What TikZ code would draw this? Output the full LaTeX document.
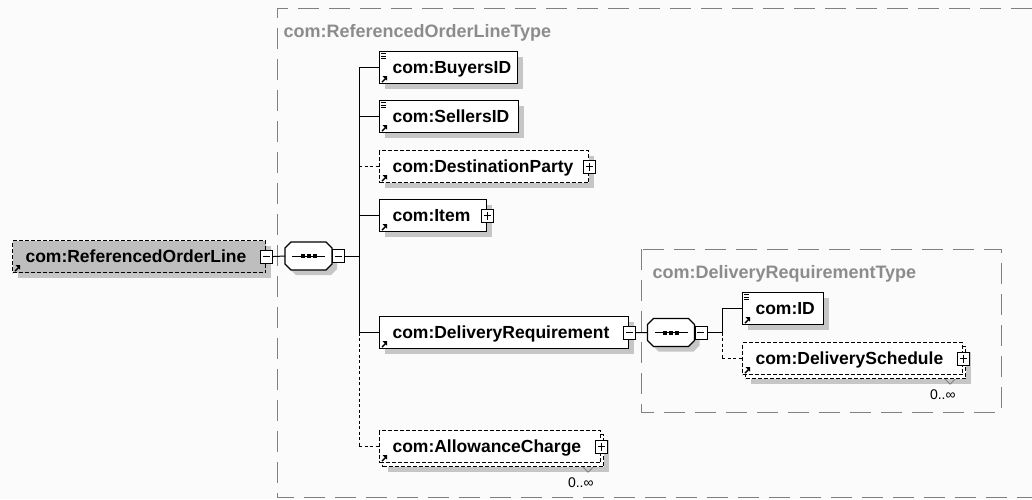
\documentclass[tikz,border=0pt]{standalone}
\usepackage{fontspec}
\setmainfont{Liberation Sans}
\usepackage{tikz}
\usetikzlibrary{arrows}
\usetikzlibrary{shadows}
\hyphenpenalty=10000

\definecolor{typegray}{RGB}{140,140,140}
\definecolor{linegray}{RGB}{128,128,128}
\definecolor{shadegray}{RGB}{198,198,198}
\definecolor{fillgray}{RGB}{190,190,190}
\definecolor{paper}{RGB}{251,251,251}

\begin{document}
\begin{tikzpicture}[x=1pt,y=-1pt,line width=1pt,
  elem/.style={draw, line width=1.1pt, fill=white, anchor=north west,
    minimum height=32pt, inner xsep=13pt, inner ysep=0pt,
    text height=12pt, text depth=0pt, text width=#1, align=left,
    font=\fontsize{17.5}{20}\selectfont\bfseries},
  boxshadow/.style={drop shadow={shadow xshift=5pt, shadow yshift=-5pt, fill=shadegray, opacity=1}},
  opt/.style={dash pattern=on 4pt off 2pt},
  optline/.style={dash pattern=on 3pt off 2.5pt},
  typebox/.style={linegray, line width=1pt, dash pattern=on 21pt off 10pt},
  typelabel/.style={anchor=base west, inner sep=0pt, text=typegray, font=\fontsize{18}{21}\selectfont\bfseries},
  pm/.style={draw, line width=0.8pt, fill=white, minimum width=12pt, minimum height=13pt, inner sep=0pt},
  minusbox/.style={pm, path picture={\draw[line width=0.8pt] ([xshift=2.5pt]path picture bounding box.west) -- ([xshift=-2.5pt]path picture bounding box.east);}},
  plusbox/.style={pm, path picture={\draw[line width=0.8pt] ([xshift=2.5pt]path picture bounding box.west) -- ([xshift=-2.5pt]path picture bounding box.east);
    \draw[line width=0.8pt] ([yshift=-2.5pt]path picture bounding box.north) -- ([yshift=2.5pt]path picture bounding box.south);}},
  seqbox/.style={minimum width=47pt, minimum height=28pt, inner sep=0pt, outer sep=0pt},
  mult/.style={anchor=base east, inner sep=0pt, font=\fontsize{14}{16}\selectfont},
]
\def\octagonpath{+(-17.5,-14) -- +(17.5,-14) -- +(23.5,-8) -- +(23.5,8) -- +(17.5,14) -- +(-17.5,14) -- +(-23.5,8) -- +(-23.5,-8) -- cycle}

\useasboundingbox (0,0) rectangle (1032,499);
\fill[paper] (0,0) rectangle (1032,499);

\draw[typebox] (1032,8) -- (277,8) -- (277,497) -- (1032,497);
\node[typelabel] (oltype) at (283,37) {com:ReferencedOrderLineType};
\draw[typebox] (641,249) rectangle (1001,412);
\node[typelabel] (drtype) at (652,278) {com:DeliveryRequirementType};

\node[elem=227pt, opt, fill=fillgray, boxshadow] (rol) at (12,240) {com:ReferencedOrderLine};
\node[minusbox] (rolminus) at (rol.east) {};

\node[seqbox] (seq1) at (308.5,256) {};
\node[seqbox] (seq2) at (671,332.5) {};

\foreach \s in {seq1,seq2}
{
	\fill[shadegray] ([shift={(5,5)}]\s.center) \octagonpath;
	\draw[line width=1.1pt, fill=white] (\s.center) \octagonpath;
	\draw (\s.center) +(-16.5,0) -- +(16.5,0);
	\foreach \d in {-6,0,6}
		\fill ([xshift=\d pt]\s.center) +(-2,-2) rectangle +(2,2);
}

\node[minusbox, anchor=west] (seq1minus) at (seq1.east) {};
\node[minusbox, anchor=west] (seq2minus) at (seq2.east) {};

\node[elem=112pt, boxshadow] (buyers) at (379,51) {com:BuyersID};
\node[elem=113pt, boxshadow] (sellers) at (379,100) {com:SellersID};
\node[elem=183pt, opt, boxshadow] (dest) at (379,150) {com:DestinationParty};
\node[plusbox] (destplus) at (dest.east) {};
\node[elem=81pt, boxshadow] (item) at (379,199) {com:Item};
\node[plusbox] (itemplus) at (item.east) {};
\node[elem=223pt, boxshadow] (dr) at (379,316) {com:DeliveryRequirement};
\node[minusbox] (drminus) at (dr.east) {};
\node[elem=195pt, opt, boxshadow] (acback) at (382,434) {};
\node[elem=195pt, opt] (ac) at (379,430) {com:AllowanceCharge};
\node[plusbox] (acplus) at (ac.east) {};

\node[elem=55pt, boxshadow] (id) at (742,292) {com:ID};
\node[elem=194pt, opt, boxshadow] (dsback) at (745,346) {};
\node[elem=194pt, opt] (ds) at (742,342) {com:DeliverySchedule};
\node[plusbox] (dsplus) at (ds.east) {};

\foreach \n in {rol,buyers,sellers,dest,item,dr,ac,id,ds}
{
	\draw[line width=1.3pt] ([shift={(3,-2)}]\n.south west) -- +(3.5,-3.5);
	\fill ([shift={(8,-8)}]\n.south west) -- +(-4.5,0) -- +(0,4.5) -- cycle;
}
\foreach \n in {buyers,sellers,id}
	\foreach \k in {2.5,5,7.5}
		\draw[line width=0.6pt] ([shift={(2,\k)}]\n.north west) -- +(5,0);

\node[mult] (acmult) at ([shift={(-10,20)}]acback.south east) {0..∞};
\node[mult] (dsmult) at ([shift={(-10,20)}]dsback.south east) {0..∞};
\foreach \n in {acback,dsback}
	\draw[linegray, line width=0.8pt] (\n.south east) +(-21,0) -- +(-16,5) -- +(-11,0);

\coordinate (fork1) at (359,256);
\coordinate (fork2) at (722,332.5);

\draw (rolminus.east) -- (seq1.west);
\draw (seq1minus.east) -- (fork1);
\draw (fork1 |- buyers.west) -- (fork1 |- dr.west);
\draw[optline] (fork1 |- dr.west) -- (fork1 |- ac.west);
\foreach \n in {buyers,sellers,item,dr}
	\draw (fork1 |- \n.west) -- (\n.west);
\foreach \n in {dest,ac}
	\draw[optline] (fork1 |- \n.west) -- (\n.west);

\draw (drminus.east) -- (seq2.west);
\draw (seq2minus.east) -- (fork2);
\draw (fork2 |- id.west) -- (fork2);
\draw[optline] (fork2) -- (fork2 |- ds.west);
\draw (fork2 |- id.west) -- (id.west);
\draw[optline] (fork2 |- ds.west) -- (ds.west);

\end{tikzpicture}
\end{document}
